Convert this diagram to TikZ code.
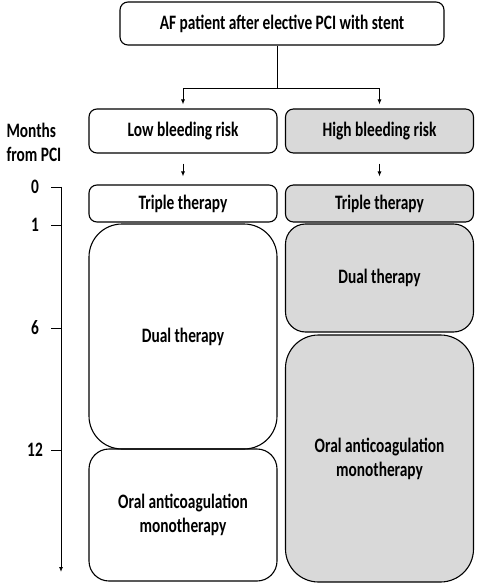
\documentclass[tikz,border=0pt]{standalone}
\usepackage{fontspec}
\setmainfont{Carlito}[FakeStretch=0.75]
\usetikzlibrary{arrows.meta,positioning}
\definecolor{riskgray}{HTML}{D9D9D9}

\begin{document}
\begin{tikzpicture}[x=1pt,y=-1pt,font=\fontsize{20.5}{24}\selectfont\bfseries,
	phase/.style={draw,line width=1.1pt,rounded corners=#1,align=center,inner sep=0pt,minimum width=188pt},
	phase/.default=8pt,
	high/.style={fill=riskgray},
	flow/.style={line width=0.9pt,-{Latex[length=5pt,width=4pt]}}]
				\useasboundingbox (0,0) rectangle (477,585);
				
				\node[phase,minimum width=324pt,minimum height=43pt] (start) at (282,23.5) {AF patient after elective PCI with stent};
				\node[phase,minimum height=44pt] (low) at (183,131) {Low bleeding risk};
				\node[phase,high,minimum height=44pt] (high) at (379.5,131) {High bleeding risk};
				
				\node[phase,minimum height=37pt] (lowtriple) at (183,203.5) {Triple therapy};
				\node[phase=33pt,minimum height=225pt] (lowdual) at (183,336.5) {Dual therapy};
				\node[phase=20pt,minimum height=132pt] (loworal) at (183,515) {Oral anticoagulation\\monotherapy};
				
				\node[phase,high,minimum height=37pt] (hightriple) at (379.5,203.5) {Triple therapy};
				\node[phase=20pt,high,minimum height=108pt] (highdual) at (379.5,278) {Dual therapy};
				\node[phase=33pt,high,minimum height=247pt] (highoral) at (379.5,458.5) {Oral anticoagulation\\monotherapy};
				
				\coordinate (split) at (277,88);
				\draw[line width=0.9pt] (start.south -| split) -- (split);
				\draw[flow,shorten >=4pt] (split) -| (low);
				\draw[flow,shorten >=4pt] (split) -| (high);
				\draw[flow,shorten <=10pt,shorten >=8pt] (low) -- (lowtriple);
				\draw[flow,shorten <=10pt,shorten >=8pt] (high) -- (hightriple);
				
				\node[anchor=west,align=left] (axislabel) at (3,142) {Months\\from PCI};
				\coordinate (axistop) at (61,187);
				\coordinate (axisend) at (61,572);
				\draw[flow] (axistop) -- (axisend);
				\foreach \m/\y in {0/187,1/225,6/328,12/450}{
					\coordinate (tick\m) at (61,\y);
					\draw[line width=0.9pt] (tick\m) -- ++(-10,0);
					\node (month\m) at (35,\y) {\m};}
			\end{tikzpicture}
\end{document}
